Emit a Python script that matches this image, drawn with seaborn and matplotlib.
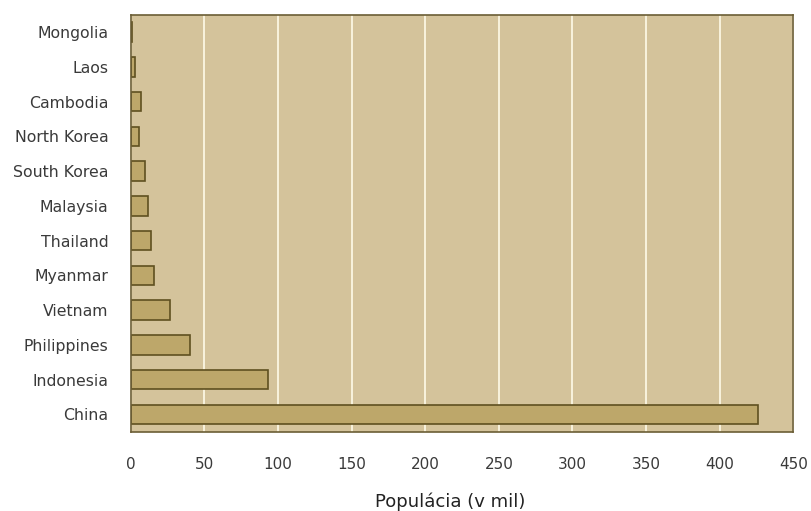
import matplotlib
matplotlib.use("Agg")
import matplotlib.pyplot as plt
import seaborn as sns
import pandas as pd

countries = ["Mongolia", "Laos", "Cambodia", "North Korea", "South Korea", "Malaysia",
             "Thailand", "Myanmar", "Vietnam", "Philippines", "Indonesia", "China"]
population = [1, 2.7, 7, 5.5, 9.5, 12, 13.5, 16, 27, 40.5, 93.5, 426]
x_ticks = [0, 50, 100, 150, 200, 250, 300, 350, 400, 450]

df = pd.DataFrame({"country": countries, "population": population})

sns.set_theme(style="white")
plt.rcParams["font.family"] = ["DejaVu Sans"]

fig = plt.figure(figsize=(8.12, 5.11), dpi=100)
ax = fig.add_axes([0.161, 0.155, 0.816, 0.816])
ax.set_facecolor("#d4c39b")

sns.barplot(data=df, x="population", y="country", orient="h", ax=ax,
            color="#bda76a", edgecolor="#5f5020", linewidth=1.2, width=0.56,
            saturation=1)

ax.set_xlim(0, 450)
ax.set_ylim(11.5, -0.5)
ax.set_xticks(x_ticks)
ax.set_xticklabels([str(t) for t in x_ticks])
ax.grid(axis="x", color="#fbf6e2", linewidth=1.3)
ax.set_axisbelow(True)
for s in ax.spines.values():
    s.set_color("#6b5d35")
    s.set_linewidth(1.2)
ax.tick_params(axis="both", length=0, colors="#3a3a3a")
ax.tick_params(axis="x", pad=18, labelsize=11)
ax.tick_params(axis="y", pad=16, labelsize=11.3)
ax.set_ylabel("")
ax.set_xlabel("Populácia (v mil)", fontsize=13, color="#222222")
ax.xaxis.set_label_coords((450 - 131) / 662, -0.145)

fig.savefig("out.png", dpi=100)
